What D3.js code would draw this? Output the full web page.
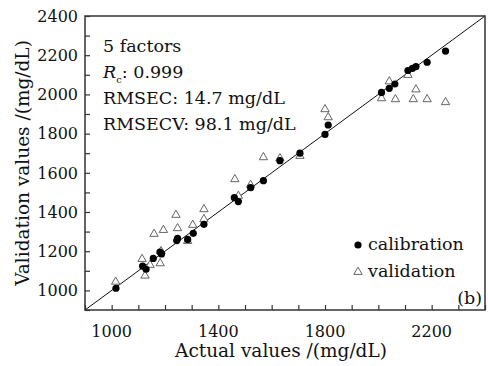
<!DOCTYPE html>
<html>
<head>
<meta charset="utf-8">
<script src="https://cdn.jsdelivr.net/npm/d3@7"></script>
<style>
  body { margin: 0; background: #fff; }
  text { font-family: "DejaVu Serif", serif; fill: #111; }
</style>
</head>
<body>
<div id="chart"></div>
<script>
var WD = 488, HT = 366
var margin = { left: 85, right: 3, top: 16, bottom: 56 }
var width = WD - margin.left - margin.right
var height = HT - margin.top - margin.bottom

// calibration set: actual, predicted
var calActual = [1016,1116,1129,1156,1181,1187,1244,1247,1285,1306,1346,1460,1475,1521,1569,1631,1706,1800,1812,2012,2041,2062,2111,2128,2141,2183,2252]
var calPred   = [1011,1124,1108,1163,1196,1186,1254,1265,1260,1291,1337,1473,1453,1524,1560,1662,1700,1796,1844,2010,2031,2053,2122,2133,2142,2164,2221]

// validation set: actual, predicted
var valActual = [1015,1114,1125,1144,1159,1182,1185,1194,1241,1247,1285,1304,1346,1346,1462,1475,1521,1569,1631,1706,1800,1812,2012,2041,2064,2111,2131,2141,2183,2252]
var valPred   = [1044,1160,1075,1130,1288,1138,1200,1308,1385,1317,1252,1334,1414,1363,1567,1482,1538,1679,1674,1686,1924,1883,1980,2066,1975,2099,1975,2025,1975,1960]

var xTicks = [1000,1400,1800,2200]
var yTicks = [1000,1200,1400,1600,1800,2000,2200,2400]
var minorTicks = d3.range(900, 2401, 100)
var statLines = ["5 factors", "Rc: 0.999", "RMSEC: 14.7 mg/dL", "RMSECV: 98.1 mg/dL"]

var svg = d3.select("#chart").append("svg")
    .attr("width", WD)
    .attr("height", HT)

var g = svg.append("g").attr("transform", "translate(" + margin.left + "," + margin.top + ")")

var x = d3.scaleLinear().domain([900, 2400]).range([0, width])
var y = d3.scaleLinear().domain([900, 2400]).range([height, 0])

// ticks (inward)
g.append("g")
  .attr("transform", "translate(0," + height + ")")
  .call(d3.axisBottom(x).tickValues(minorTicks).tickSize(-5).tickFormat(""))
  .call(function(a){ a.select(".domain").remove(); a.selectAll("line").attr("stroke", "#333").attr("stroke-width", 1.2) })

g.append("g")
  .call(d3.axisLeft(y).tickValues(minorTicks).tickSize(-5).tickFormat(""))
  .call(function(a){ a.select(".domain").remove(); a.selectAll("line").attr("stroke", "#333").attr("stroke-width", 1.2) })

// tick labels
g.selectAll(".xl").data(xTicks).enter().append("text")
  .attr("x", function(d){ return x(d) })
  .attr("y", height + 27)
  .attr("text-anchor", "middle")
  .style("font-size", "16px")
  .text(function(d){ return d })

g.selectAll(".yl").data(yTicks).enter().append("text")
  .attr("x", -7)
  .attr("y", function(d){ return y(d) })
  .attr("dy", "0.36em")
  .attr("text-anchor", "end")
  .style("font-size", "16px")
  .text(function(d){ return d })

// y = x line
g.append("line")
  .attr("x1", x(900)).attr("y1", y(900))
  .attr("x2", x(2400)).attr("y2", y(2400))
  .attr("stroke", "#111").attr("stroke-width", 1)

// frame
g.append("rect")
  .attr("width", width).attr("height", height)
  .attr("fill", "none").attr("stroke", "#333").attr("stroke-width", 1.5)

var tri = d3.symbol().type(d3.symbolTriangle).size(30)

g.selectAll(".val").data(valActual).enter().append("path")
  .attr("class", "val")
  .attr("transform", function(d, i){ return "translate(" + x(d) + "," + y(valPred[i]) + ")" })
  .attr("d", tri)
  .attr("fill", "#fff").attr("stroke", "#555").attr("stroke-width", 0.9)

g.selectAll(".cal").data(calActual).enter().append("circle")
  .attr("class", "cal")
  .attr("cx", function(d){ return x(d) })
  .attr("cy", function(d, i){ return y(calPred[i]) })
  .attr("r", 3.6)
  .attr("fill", "#000")

// stats text
var st = g.append("g").attr("transform", "translate(18,0)")
statLines.forEach(function(s, i){
  var t = st.append("text").attr("x", 0).attr("y", 36 + i * 26).style("font-size", "17.5px")
  if (s.indexOf("Rc") == 0) {
    t.append("tspan").style("font-style", "italic").text("R")
    t.append("tspan").attr("dy", 5).style("font-size", "10px").text("c")
    t.append("tspan").attr("dy", -5).text(s.slice(2))
  } else {
    t.text(s)
  }
})

// legend
var lg = g.append("g").attr("transform", "translate(273,0)")
lg.append("circle").attr("cx", 0).attr("cy", 229).attr("r", 3.6).attr("fill", "#000")
lg.append("path").attr("transform", "translate(0,256)").attr("d", tri)
  .attr("fill", "#fff").attr("stroke", "#555").attr("stroke-width", 0.9)
lg.append("text").attr("x", 10).attr("y", 234).style("font-size", "17.5px").text("calibration")
lg.append("text").attr("x", 10).attr("y", 261).style("font-size", "17.5px").text("validation")

g.append("text")
  .attr("x", width - 3).attr("y", height - 6)
  .attr("text-anchor", "end")
  .style("font-size", "17.5px")
  .text("(b)")

// axis titles
svg.append("text")
  .attr("x", margin.left + width / 2 - 4)
  .attr("y", 357)
  .attr("text-anchor", "middle")
  .style("font-size", "18.5px")
  .text("Actual values /(mg/dL)")

svg.append("text")
  .attr("transform", "translate(29," + (margin.top + height / 2) + ") rotate(-90)")
  .attr("text-anchor", "middle")
  .style("font-size", "18.5px")
  .text("Validation values /(mg/dL)")
</script>
</body>
</html>
